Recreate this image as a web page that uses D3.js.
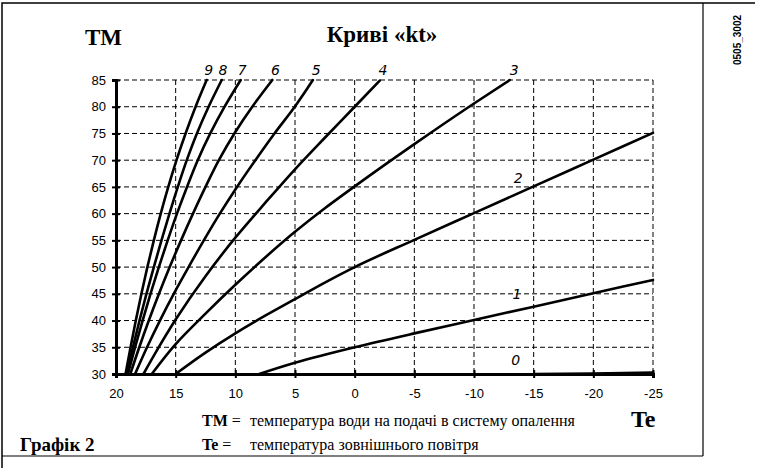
<!DOCTYPE html>
<html>
<head>
<meta charset="utf-8">
<script src="https://cdn.jsdelivr.net/npm/d3@7/dist/d3.min.js"></script>
</head>
<body style="margin:0">
<svg id="chart" width="763" height="468"></svg>
<script>
// Outdoor temperature ticks (Te) and flow temperature ticks (TM)
const teTicks = [20, 15, 10, 5, 0, -5, -10, -15, -20, -25];
const tmTicks = [30, 35, 40, 45, 50, 55, 60, 65, 70, 75, 80, 85];

// Heating curves kt = 0..9, points are [Te, TM]
const curveNames = ["0", "1", "2", "3", "4", "5", "6", "7", "8", "9"];
const kt0 = [[-15, 30], [-20, 30.1], [-25, 30.25]];
const kt1 = [[8, 30], [5, 32.1], [0, 35], [-5, 37.6], [-10, 40.1], [-15, 42.6], [-20, 45.1], [-25, 47.6]];
const kt2 = [[15, 30], [12.5, 34.0], [10, 37.6], [7.5, 40.9], [5, 44.0], [2.5, 47.1], [0, 50], [-5, 55.1], [-10, 60.1], [-15, 65.1], [-20, 70.1], [-25, 75.1]];
const kt3 = [[17, 30], [15, 35.6], [12.5, 41.3], [10, 46.7], [7.5, 51.8], [5, 56.6], [2.5, 61.0], [0, 65.1], [-5, 73.0], [-10, 80.6], [-13, 85]];
const kt4 = [[17.7, 30], [16.5, 34.7], [15, 40.2], [12.5, 48.3], [10, 55.5], [7.5, 62.0], [5, 68.3], [2.5, 74.2], [0, 80], [-2.1, 84.9]];
const kt5 = [[18.4, 30], [17.4, 35], [16.32, 40], [15.16, 45], [13.92, 50], [12.64, 55], [11.3, 60], [9.86, 65], [8.32, 70], [6.72, 75], [5.02, 80], [3.5, 85]];
const kt6 = [[18.8, 30], [18.05, 35], [17.25, 40], [16.4, 45], [15.5, 50], [14.55, 55], [13.55, 60], [12.5, 65], [11.38, 70], [10.08, 75], [8.58, 80], [6.9, 85]];
const kt7 = [[19.0, 30], [18.4, 35], [17.77, 40], [17.11, 45], [16.41, 50], [15.67, 55], [14.89, 60], [14.05, 65], [13.15, 70], [12.1, 75], [10.9, 80], [9.55, 85]];
const kt8 = [[19.1, 30], [18.58, 35], [18.03, 40], [17.45, 45], [16.83, 50], [16.19, 55], [15.52, 60], [14.82, 65], [14.07, 70], [13.22, 75], [12.24, 80], [11.14, 85]];
const kt9 = [[19.2, 30], [18.78, 35], [18.34, 40], [17.87, 45], [17.37, 50], [16.83, 55], [16.25, 60], [15.62, 65], [14.93, 70], [14.17, 75], [13.33, 80], [12.4, 85]];
const curves = [kt0, kt1, kt2, kt3, kt4, kt5, kt6, kt7, kt8, kt9];

// Where each curve number is written, [Te, TM]
const labelPos = [[-13.5, 32.6], [-13.6, 45], [-13.7, 66.6], [-13.2, 85], [-2.2, 85], [3.4, 85], [6.8, 85], [9.6, 85], [11.2, 85], [12.4, 85]];

const svg = d3.select("#chart");

// frame
svg.append("path")
  .attr("d", "M2,468 V3 H755")
  .attr("fill", "none").attr("stroke", "#000").attr("stroke-width", 1.5);
svg.append("line")
  .attr("x1", 703).attr("x2", 703).attr("y1", 3).attr("y2", 456)
  .attr("stroke", "#000").attr("stroke-width", 1.2);
svg.append("line")
  .attr("x1", 2).attr("x2", 703).attr("y1", 456).attr("y2", 456)
  .attr("stroke", "#000").attr("stroke-width", 1.2);

const x = d3.scaleLinear().domain([20, -25]).range([116, 653]);
const y = d3.scaleLinear().domain([30, 85]).range([374, 80]);

// dashed grid
const grid = svg.append("g").attr("stroke", "#000").attr("stroke-width", 1)
  .attr("stroke-dasharray", "5,3").attr("fill", "none");
grid.selectAll(".v").data(teTicks.slice(1)).join("line")
  .attr("x1", d => x(d)).attr("x2", d => x(d))
  .attr("y1", y(85)).attr("y2", y(30));
grid.selectAll(".h").data(tmTicks.slice(1)).join("line")
  .attr("x1", x(20)).attr("x2", x(-25))
  .attr("y1", d => y(d)).attr("y2", d => y(d));

// axes
const yAxis = svg.append("g").attr("transform", `translate(${x(20)},0)`)
  .call(d3.axisLeft(y).tickValues(tmTicks).tickSize(4).tickPadding(6).tickFormat(d => String(d)));
const xAxis = svg.append("g").attr("transform", `translate(0,${y(30)})`)
  .call(d3.axisBottom(x).tickValues(teTicks).tickSize(4).tickPadding(11).tickFormat(d => String(d)));

[yAxis, xAxis].forEach(g => {
  g.attr("font-family", "Liberation Sans").attr("font-size", 13);
  g.select(".domain").attr("stroke-width", 3);
  g.selectAll(".tick line").attr("stroke-width", 2);
  g.selectAll(".tick text").attr("fill", "#000");
});
yAxis.selectAll(".tick line").attr("x1", 4);
xAxis.selectAll(".tick line").attr("y1", -4);

// curves
const line = d3.line().x(d => x(d[0])).y(d => y(d[1])).curve(d3.curveMonotoneY);
svg.append("g").selectAll("path").data(curves).join("path")
  .attr("d", line)
  .attr("fill", "none").attr("stroke", "#000").attr("stroke-width", 2.6)
  .attr("stroke-linecap", "round");

// curve numbers
svg.append("g").selectAll("text").data(curveNames).join("text")
  .attr("x", (d, i) => x(labelPos[i][0]) + (i >= 3 ? 2 : 0))
  .attr("y", (d, i) => i >= 3 ? 75 : y(labelPos[i][1]) + 5)
  .attr("text-anchor", "middle")
  .attr("font-style", "italic")
  .attr("font-size", 14)
  .style("font-family", '"DejaVu Sans"')
  .text(d => d);

// titles
svg.append("text").attr("x", 382).attr("y", 42).attr("text-anchor", "middle")
  .attr("font-size", 23).attr("font-weight", "bold")
  .style("font-family", '"Liberation Serif"')
  .text("Криві «kt»");
svg.append("text").attr("x", 85).attr("y", 45)
  .attr("font-family", "'Liberation Serif'").attr("font-weight", "bold").attr("font-size", 23).text("TM");
svg.append("text").attr("x", 631).attr("y", 427)
  .attr("font-family", "'Liberation Serif'").attr("font-weight", "bold").attr("font-size", 24).text("Te");

// legend lines
function legendRow(yPos, key, desc) {
  const t = svg.append("text").attr("x", 202).attr("y", yPos)
    .attr("font-family", "Liberation Serif").attr("font-size", 16);
  t.append("tspan").attr("font-weight", "bold").text(key);
  t.append("tspan").text(" =");
  svg.append("text").attr("x", 250).attr("y", yPos)
    .attr("font-family", "Liberation Serif").attr("font-size", 16).text(desc);
}
legendRow(426, "TM", "температура води на подачі в систему опалення");
legendRow(450, "Te", "температура зовнішнього повітря");

svg.append("text").attr("x", 20).attr("y", 451)
  .attr("font-weight", "bold").attr("font-size", 19)
  .style("font-family", "Liberation Serif")
  .text("Графік 2");

// drawing code
svg.append("text")
  .attr("transform", "translate(741,40) rotate(-90)")
  .attr("text-anchor", "middle")
  .attr("font-family", "Liberation Sans")
  .attr("font-weight", "bold").attr("font-size", 10).text("0505_3002");
</script>
</body>
</html>
